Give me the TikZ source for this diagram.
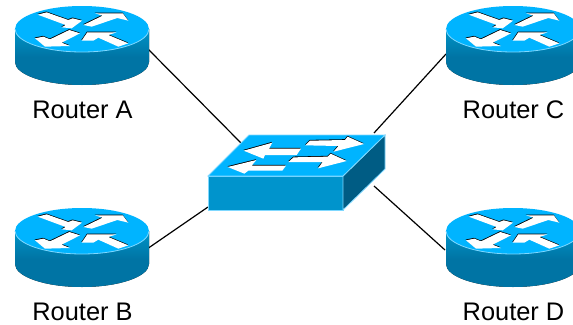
\documentclass[tikz,border=0pt]{standalone}
\usepackage{fontspec}
\setmainfont{Liberation Sans}
\definecolor{topblue}{HTML}{00B4FF}
\definecolor{sidetop}{HTML}{0094C8}
\definecolor{sidebot}{HTML}{0074A4}
\definecolor{swfront}{HTML}{0094CC}
\definecolor{swside}{HTML}{005C84}
\definecolor{rim}{HTML}{7FD8FF}
\tikzset{
  lbl/.style={font=\fontsize{25.4}{27}\selectfont,inner sep=0pt,anchor=base},
  link/.style={draw=black,line width=1.2pt},
  router/.pic={
    \fill[top color=sidetop,bottom color=sidebot,middle color=sidebot]
      (-67,0) -- (-67,33) arc[start angle=180,end angle=0,x radius=67,y radius=23] -- (67,0) -- cycle;
    \fill[topblue] (0,0) ellipse[x radius=67,y radius=23];
    \draw[rim,line width=.8pt] (-67,0) arc[start angle=180,end angle=0,x radius=67,y radius=23];
    \begin{scope}[shift={(-82,-29)},x=1pt/3,y=-1pt/3]
    \foreach \c/\dx/\dy in {black/-.8/-2.4,white/0/0}{
      \fill[\c,shift={(\dx,\dy)}] (113,44)--(140,37)--(205,60)--(218,55)--(246,62)--(215,85)--(185,82)--(197,75)--cycle;
      \fill[\c,shift={(\dx,\dy)}] (250,75)--(308,47)--(285,40)--(368,40)--(385,62)--(352,54)--(275,80)--cycle;
      \fill[\c,shift={(\dx,\dy)}] (105,115)--(130,110)--(150,118)--(208,90)--(240,100)--(185,128)--(210,138)--(135,140)--cycle;
      \fill[\c,shift={(\dx,\dy)}] (245,122)--(262,97)--(350,97)--(325,105)--(385,130)--(355,140)--(295,113)--(280,122)--cycle;
    }
    \end{scope}
  }
}
\begin{document}
\begin{tikzpicture}[x=1pt,y=-1pt]
\useasboundingbox (0,0) rectangle (573,324);
\fill[white] (0,0) rectangle (573,324);
\coordinate (aout) at (147,48);
\coordinate (ain) at (241,143);
\coordinate (bout) at (147,249);
\coordinate (bin) at (208,207);
\coordinate (cout) at (446,54);
\coordinate (cin) at (374,133);
\coordinate (dout) at (445,250);
\coordinate (din) at (374,186);
\draw[link] (aout) -- (ain);
\draw[link] (bout) -- (bin);
\draw[link] (cout) -- (cin);
\draw[link] (dout) -- (din);
\pic at (82,29) {router};
\pic at (82,231) {router};
\pic at (513,29) {router};
\pic at (513,231) {router};
% switch
\fill[swfront,draw=rim,line width=.8pt] (208,176) rectangle (343,210);
\fill[swside,draw=rim,line width=.8pt] (343,176) -- (385,135) -- (385,169) -- (343,210) -- cycle;
\fill[topblue,draw=rim,line width=.8pt] (208,176) -- (249,135) -- (385,135) -- (343,176) -- cycle;
\begin{scope}[shift={(195,120)},x=1pt/3,y=-1pt/3]
\foreach \c/\dx/\dy in {black/-.8/-2.4,white/0/0}{
  \fill[\c,shift={(\dx,\dy)}] (146,92)--(232,68)--(222,86)--(318,86)--(305,105)--(210,105)--(205,116)--cycle;
  \fill[\c,shift={(\dx,\dy)}] (331,76)--(345,62)--(450,60)--(458,50)--(507,72)--(416,95)--(430,78)--cycle;
  \fill[\c,shift={(\dx,\dy)}] (98,141)--(184,120)--(170,137)--(273,137)--(262,152)--(160,152)--(148,161)--cycle;
  \fill[\c,shift={(\dx,\dy)}] (280,126)--(296,112)--(398,110)--(407,101)--(455,123)--(369,145)--(383,126)--cycle;
}
\end{scope}
\node[lbl] (ta) at (82.5,118) {Router A};
\node[lbl] (tb) at (82.5,320) {Router B};
\node[lbl] (tc) at (513.5,118) {Router C};
\node[lbl] (td) at (513.5,320) {Router D};
\end{tikzpicture}
\end{document}
